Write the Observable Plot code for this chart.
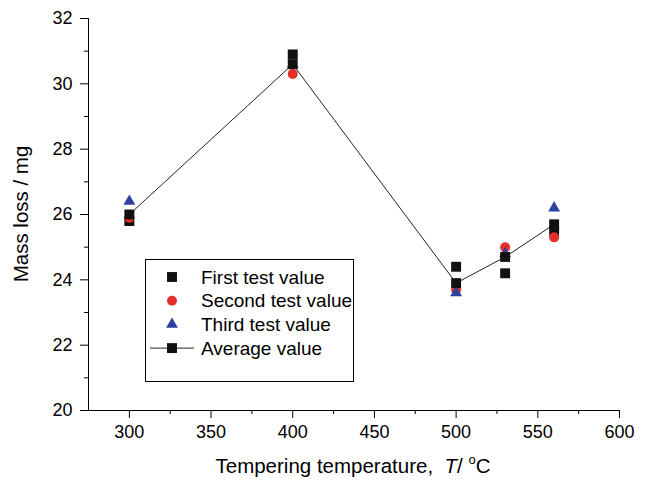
<!DOCTYPE html>
<html><head><meta charset="utf-8">
<script src="https://cdn.jsdelivr.net/npm/d3@7"></script>
<script src="https://cdn.jsdelivr.net/npm/@observablehq/plot@0.6"></script>
<style>body{margin:0;background:#fff}</style>
</head><body><div id="chart"></div>
<script>
const temperatures = [300, 400, 500, 530, 560];
const firstTest = [25.8, 30.9, 24.4, 24.2, 25.5];
const secondTest = [25.9, 30.3, 23.7, 25.0, 25.3];
const thirdTest = [26.4, 30.6, 23.6, 24.8, 26.2];
const averageValue = [26.0, 30.6, 23.9, 24.7, 25.7];
const xTicks = [300, 350, 400, 450, 500, 550, 600];
const xMinorTicks = [325, 375, 425, 475, 525, 575];
const yTicks = [20, 22, 24, 26, 28, 30, 32];
const yMinorTicks = [21, 23, 25, 27, 29, 31];
const legendLabels = ["First test value", "Second test value", "Third test value", "Average value"];

const rows = vals => temperatures.map((t, i) => ({t, v: vals[i]}));
const FONT = "'Liberation Sans', Arial, Helvetica, sans-serif";
const BLACK = "#111", RED = "#e3302a", BLUE = "#2e40a0";

const plot = Plot.plot({
  width: 646, height: 481,
  marginLeft: 88, marginRight: 27, marginTop: 18, marginBottom: 71,
  x: {domain: [275, 600]},
  y: {domain: [20, 32]},
  style: {fontFamily: FONT, fontSize: "18px", color: "#000", background: "#fff", overflow: "visible"},
  marks: [
    Plot.axisX({ticks: xTicks, tickSize: 8, tickPadding: 7, label: null, fontSize: 18}),
    Plot.axisX({ticks: xMinorTicks, tickSize: 4, text: null, label: null}),
    Plot.axisY({ticks: yTicks, tickSize: 8, tickPadding: 8, label: null, fontSize: 18}),
    Plot.axisY({ticks: yMinorTicks, tickSize: 4, text: null, label: null}),
    Plot.ruleY([20], {stroke: "#000"}),
    Plot.ruleX([275], {stroke: "#000"}),
    Plot.dot(rows(firstTest), {x: "t", y: "v", symbol: "square", fill: BLACK, r: 5.6}),
    Plot.dot(rows(secondTest), {x: "t", y: "v", symbol: "circle", fill: RED, r: 5}),
    Plot.dot(rows(thirdTest), {x: "t", y: "v", symbol: "triangle", fill: BLUE, r: 4.4}),
    Plot.line(rows(averageValue), {x: "t", y: "v", stroke: "#222", strokeWidth: 1}),
    Plot.dot(rows(averageValue), {x: "t", y: "v", symbol: "square", fill: BLACK, r: 5.6})
  ]
});
document.getElementById("chart").appendChild(plot);

const svg = d3.select(plot);
// Axis titles
svg.append("text")
  .attr("transform", "translate(28,214) rotate(-90)")
  .attr("text-anchor", "middle")
  .attr("font-family", FONT).attr("font-size", 20.5).attr("fill", "#000")
  .text("Mass loss / mg");
const xt = svg.append("text")
  .attr("x", 353).attr("y", 473)
  .attr("text-anchor", "middle")
  .attr("font-family", FONT).attr("font-size", 20.5).attr("fill", "#000");
xt.append("tspan").text("Tempering temperature,  ");
xt.append("tspan").attr("font-style", "italic").text("T");
xt.append("tspan").text("/ ");
xt.append("tspan").attr("font-size", 13).attr("dy", -9).text("o");
xt.append("tspan").attr("dy", 9).text("C");

// Legend
const lg = svg.append("g");
lg.append("rect").attr("x", 145.5).attr("y", 259.5).attr("width", 208).attr("height", 122)
  .attr("fill", "none").attr("stroke", "#000").attr("stroke-width", 1);
const symbols = [d3.symbolSquare, d3.symbolCircle, d3.symbolTriangle, d3.symbolSquare];
const sizes = [Math.PI * 5.6 * 5.6, Math.PI * 25, Math.PI * 4.4 * 4.4, Math.PI * 5.6 * 5.6];
const colors = [BLACK, RED, BLUE, BLACK];
legendLabels.forEach((label, i) => {
  const cy = 277 + i * 23.7;
  if (i === 3) {
    lg.append("line").attr("x1", 150).attr("x2", 194).attr("y1", cy).attr("y2", cy)
      .attr("stroke", "#222").attr("stroke-width", 1);
  }
  lg.append("path").attr("d", d3.symbol(symbols[i], sizes[i])())
    .attr("transform", `translate(172,${cy})`).attr("fill", colors[i]);
  lg.append("text").attr("x", 201).attr("y", cy + 6.5)
    .attr("text-anchor", "start")
    .attr("font-family", FONT).attr("font-size", 19).attr("fill", "#000").text(label);
});
</script>
</body></html>
